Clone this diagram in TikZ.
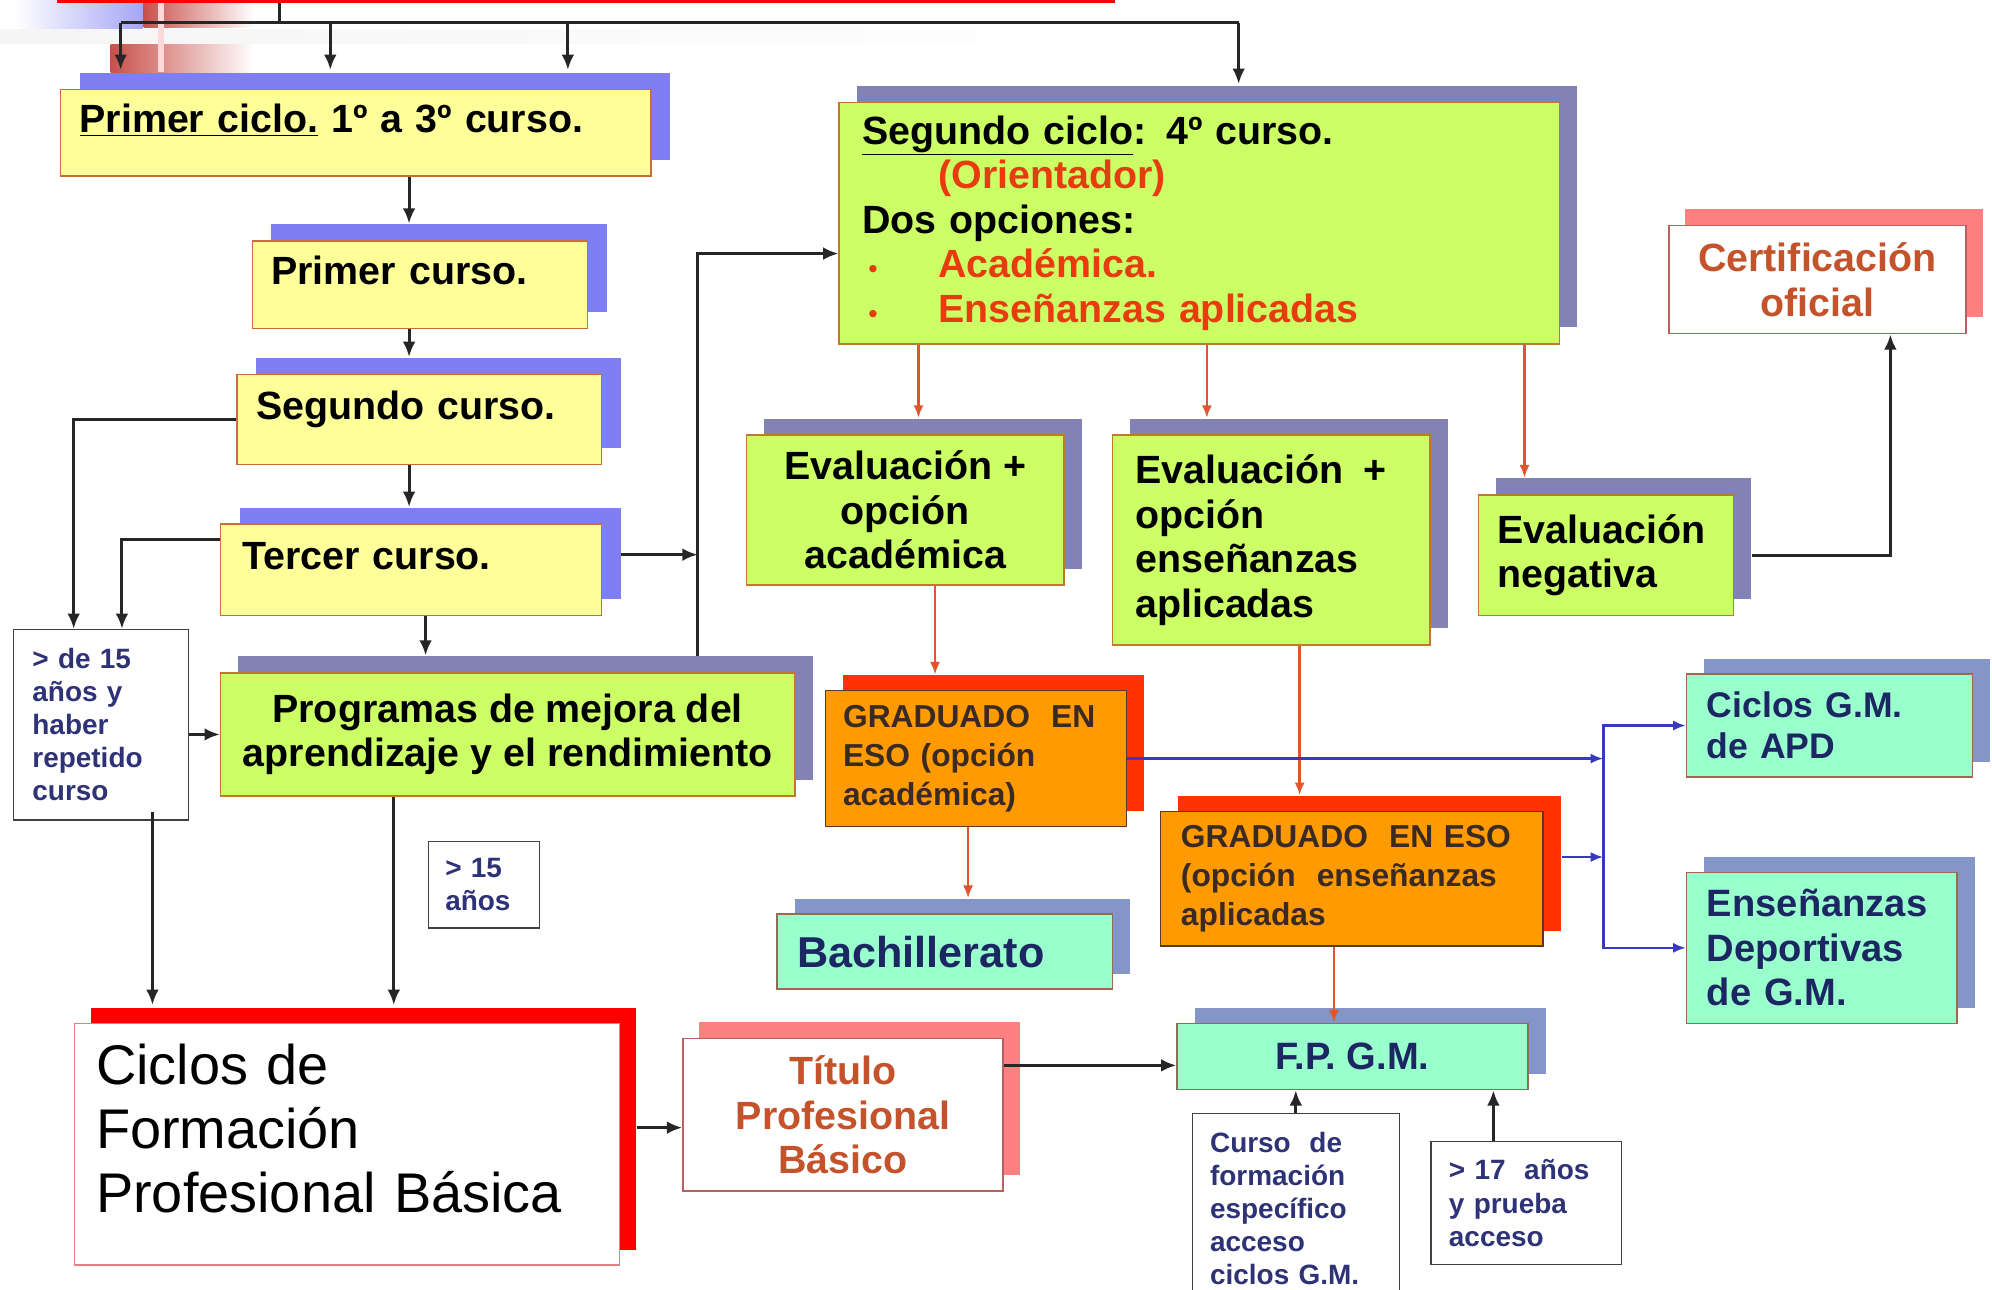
\documentclass[tikz,border=0pt]{standalone}
\usepackage{fontspec}
\setmainfont{Liberation Sans}
\usetikzlibrary{arrows.meta,shadows}

\definecolor{amarillo}{HTML}{FFFF99}
\definecolor{bordeAm}{HTML}{C86E3C}
\definecolor{sombraAz}{HTML}{7F7FF2}
\definecolor{verdeLima}{HTML}{CCFF66}
\definecolor{bordeVe}{HTML}{C0782E}
\definecolor{sombraVe}{HTML}{8282B4}
\definecolor{naranja}{HTML}{FF9A00}
\definecolor{bordeNa}{HTML}{5A3A22}
\definecolor{sombraNa}{HTML}{FF3300}
\definecolor{textoNa}{HTML}{3A2A24}
\definecolor{aguamarina}{HTML}{99FFCC}
\definecolor{bordeAg}{HTML}{9A6A50}
\definecolor{sombraAg}{HTML}{8496C8}
\definecolor{azulMarino}{HTML}{1C2662}
\definecolor{bordeTi}{HTML}{B86060}
\definecolor{sombraRosa}{HTML}{FF8080}
\definecolor{marron}{HTML}{C4522A}
\definecolor{rojoVivo}{HTML}{FF0000}
\definecolor{bordeRojo}{HTML}{E08080}
\definecolor{rojoTexto}{HTML}{E63C0F}
\definecolor{rojoDifuso}{HTML}{C8504A}
\definecolor{textoNota}{HTML}{2E3276}
\definecolor{rojoFlecha}{HTML}{E0552E}
\definecolor{azulFlecha}{HTML}{3838C0}

\tikzset{
  caja/.style={rectangle, anchor=north west, line width=1.2pt, font=\bfseries\fontsize{31}{35}\selectfont},
  curso/.style={caja, fill=amarillo, draw=bordeAm, general shadow={fill=sombraAz, shadow xshift=15pt, shadow yshift=13pt}, align=left, inner xsep=15pt, text height=22pt, text depth=22pt},
  verde/.style={caja, fill=verdeLima, draw=bordeVe, general shadow={fill=sombraVe, shadow xshift=14pt, shadow yshift=13pt}, align=center},
  graduado/.style={caja, fill=naranja, draw=bordeNa, text=textoNa, general shadow={fill=sombraNa, shadow xshift=14pt, shadow yshift=12pt}, align=left, inner xsep=14pt, font=\bfseries\fontsize{25}{30.5}\selectfont},
  agua/.style={caja, fill=aguamarina, draw=bordeAg, text=azulMarino, general shadow={fill=sombraAg, shadow xshift=14pt, shadow yshift=12pt}, align=left, font=\bfseries\fontsize{30}{35}\selectfont},
  titulo/.style={caja, fill=white, draw=bordeTi, text=marron, general shadow={fill=sombraRosa, shadow xshift=13pt, shadow yshift=13pt}, align=center},
  nota/.style={rectangle, anchor=north west, fill=white, draw=black!75, line width=1pt, text=textoNota, align=left, inner xsep=15pt, font=\bfseries\fontsize{22}{26}\selectfont},
  linea/.style={line width=2.3pt, draw=black!85},
  flecha/.style={linea, -{Latex[length=12pt,width=10pt]}},
  flechaR/.style={draw=rojoFlecha, line width=2pt, -{Latex[length=10pt,width=8pt]}},
  flechaA/.style={draw=azulFlecha, line width=2pt, -{Latex[length=10pt,width=8pt]}},
}

\begin{document}
\begin{tikzpicture}[x=1pt, y=-1pt]
  \useasboundingbox (0,0) rectangle (1568,1015);
  % restos de la cabecera
  \shade[left color=white, right color=sombraAz!70] (12,0) rectangle (112,24);
  \shade[left color=black!4, right color=white] (0,23) rectangle (900,34);
  \shade[left color=rojoDifuso, right color=white] (113,0) rectangle (200,22);
  \shade[left color=rojoDifuso, right color=white] (87,35) rectangle (200,57);
  \fill[white!85!red] (124,0) rectangle (129,57);
  \node[draw=rojoVivo, line width=2.5pt, minimum width=830pt, minimum height=60pt, anchor=south west] (eso) at (45,2) {};

  % primer ciclo
  \node[curso, minimum width=465pt, minimum height=68pt, text width=435pt] (ciclo1) at (47,70)
    {\underline{Primer ciclo.} 1º a 3º curso.};
  \node[curso, minimum width=264pt, minimum height=69pt, text width=234pt] (curso1) at (198,189) {Primer curso.};
  \node[curso, minimum width=287pt, minimum height=71pt, text width=257pt] (curso2) at (186,294) {Segundo curso.};
  \node[curso, minimum width=300pt, minimum height=72pt, text width=266pt, inner xsep=17pt] (curso3) at (173,412) {Tercer curso.};
  \node[verde, minimum width=452pt, minimum height=97pt] (pmar) at (173,529)
    {Programas de mejora del\\aprendizaje y el rendimiento};
  \node[nota, minimum width=138pt, minimum height=150pt, text width=108pt] (repetir) at (10,495)
    {> de 15\\años y\\haber\\repetido\\curso};
  \node[nota, minimum width=87pt, minimum height=68pt, text width=61pt, inner xsep=13pt] (mayor15) at (337,662) {> 15\\años};
  \node[rectangle, anchor=north west, fill=white, draw=bordeRojo, line width=1.2pt,
        general shadow={fill=rojoVivo, shadow xshift=13pt, shadow yshift=12pt},
        minimum width=429pt, minimum height=190pt, text width=395pt, inner xsep=17pt, text depth=125pt,
        align=left, font=\fontsize{44}{50}\selectfont] (fpb) at (58,805)
    {Ciclos de\\Formación\\Profesional Básica};
  \node[titulo, minimum width=252pt, minimum height=120pt] (titulo) at (537,817) {Título\\Profesional\\Básico};

  % segundo ciclo
  \node[verde, align=left, minimum width=567pt, minimum height=190pt, text width=531pt, inner xsep=18pt] (ciclo2) at (660,80)
    {\underline{Segundo ciclo}: 4º curso.\\
     \hspace*{60pt}\textcolor{rojoTexto}{(Orientador)}\\
     Dos opciones:\\
     \textcolor{rojoTexto}{\makebox[60pt][l]{\,{\fontsize{20}{20}\selectfont •}}Académica.}\\
     \textcolor{rojoTexto}{\makebox[60pt][l]{\,{\fontsize{20}{20}\selectfont •}}Enseñanzas aplicadas}};
  \node[titulo, minimum width=234pt, minimum height=85pt] (certif) at (1313,177) {Certificación\\oficial};
  \node[verde, minimum width=250pt, minimum height=118pt] (evalac) at (587,342) {Evaluación +\\opción\\académica};
  \node[verde, align=left, minimum width=250pt, minimum height=165pt, text width=214pt, inner xsep=18pt] (evalens) at (875,342)
    {Evaluación\hspace{6pt} +\\opción\\enseñanzas\\aplicadas};
  \node[verde, align=left, minimum width=201pt, minimum height=95pt, text width=171pt, inner xsep=15pt] (evalneg) at (1163,389)
    {Evaluación\\negativa};
  \node[graduado, minimum width=237pt, minimum height=107pt, text width=209pt] (gradac) at (649,543)
    {GRADUADO\ \ EN\\ESO (opción\\académica)};
  \node[graduado, minimum width=301pt, minimum height=106pt, text width=269pt, inner xsep=16pt] (gradens) at (913,638)
    {GRADUADO\ \ EN ESO\\(opción\ \ enseñanzas\\aplicadas};
  \node[agua, minimum width=264pt, minimum height=59pt, text width=232pt, inner xsep=16pt, font=\bfseries\fontsize{34}{38}\selectfont] (bach) at (611,719) {Bachillerato};
  \node[agua, align=center, minimum width=276pt, minimum height=52pt] (fpgm) at (926,805) {F.P. G.M.};
  \node[agua, minimum width=225pt, minimum height=81pt, text width=193pt, inner xsep=16pt, font=\bfseries\fontsize{28}{32}\selectfont] (apd) at (1327,530)
    {Ciclos G.M.\\de APD};
  \node[agua, minimum width=213pt, minimum height=119pt, text width=181pt, inner xsep=16pt] (deport) at (1327,686)
    {Enseñanzas\\Deportivas\\de G.M.};
  \node[nota, minimum width=163pt, minimum height=150pt, text width=135pt, inner xsep=14pt] (cursoesp) at (938,876)
    {Curso\ \ de\\formación\\específico\\acceso\\ciclos G.M.};
  \node[nota, minimum width=150pt, minimum height=97pt, text width=122pt, inner xsep=14pt] (mayor17) at (1126,898)
    {> 17\ \ años\\y prueba\\acceso};

  % reparto superior
  \coordinate (ramal) at (220,18);
  \draw[linea] (eso.south -| ramal) -- (ramal);
  \draw[linea] (ramal -| 95,0) -- (ramal -| 975,0);
  \foreach \x in {95,260,447}
    \draw[flecha] (\x,18) -- ([yshift=15pt]ciclo1.north -| \x,0);
  \draw[flecha] (975,18) -- ([yshift=14pt]ciclo2.north -| 975,0);

  % primer ciclo
  \draw[flecha] (ciclo1.south -| 322,0) -- ([yshift=13pt]curso1.north -| 322,0);
  \draw[flecha] (curso1.south -| 322,0) -- ([yshift=13pt]curso2.north -| 322,0);
  \draw[flecha] (curso2.south -| 322,0) -- ([yshift=13pt]curso3.north -| 322,0);
  \draw[flecha] (curso3.south -| 335,0) -- ([yshift=13pt]pmar.north -| 335,0);
  \draw[flecha] (curso2.west) -| ([xshift=48pt]repetir.north west);
  \draw[flecha] ([yshift=24pt]curso3.west) -| ([xshift=86pt]repetir.north west);
  \draw[flecha] (repetir.east |- pmar.west) -- (pmar.west);
  \coordinate (pie) at ([xshift=-77pt,yshift=13pt]pmar.north east);
  \coordinate (t3) at ([xshift=15pt,yshift=12pt]curso3.east);
  \draw[flecha] (pie) |- ([yshift=-24pt]ciclo2.west);
  \draw[flecha] (t3) -- (t3 -| pie);
  \draw[flecha] ([xshift=110pt,yshift=7pt]repetir.south west) -- ([xshift=62pt,yshift=14pt]fpb.north west);
  \draw[flecha] ([xshift=137pt]pmar.south west) -- ([xshift=252pt,yshift=14pt]fpb.north west);
  \draw[flecha] ([xshift=13pt,yshift=-10pt]titulo.west -| fpb.east) -- ([yshift=-10pt]titulo.west);
  \draw[flecha] ([yshift=-7pt]titulo.east |- fpgm.west) -- ([yshift=-7pt]fpgm.west);

  % segundo ciclo
  \draw[flechaR] (ciclo2.south -| 723,0) -- ([yshift=13pt]evalac.north -| 723,0);
  \draw[flechaR] (ciclo2.south -| 950,0) -- ([yshift=13pt]evalens.north -| 950,0);
  \draw[flechaR] (ciclo2.south -| 1200,0) -- ([yshift=13pt]evalneg.north -| 1200,0);
  \draw[flechaR] (evalac.south -| 736,0) -- ([yshift=12pt]gradac.north -| 736,0);
  \draw[flechaR] (evalens.south -| 1023,0) -- ([yshift=12pt]gradens.north -| 1023,0);
  \draw[flechaR] (gradac.south -| 762,0) -- ([yshift=12pt]bach.north -| 762,0);
  \draw[flechaR] (gradens.south -| 1050,0) -- (fpgm.north -| 1050,0);
  \draw[flecha] ([xshift=14pt]evalneg.east) -| ([xshift=175pt]certif.south west);

  % salidas en azul
  \coordinate (reparto) at (1262,0);
  \draw[flechaA] (gradac.east) -- (gradac.east -| reparto);
  \draw[flechaA] ([xshift=14pt,yshift=17pt]gradens.east) -- ([yshift=17pt]gradens.east -| reparto);
  \draw[flechaA] (deport.west -| reparto) -- (apd.west -| reparto) -- (apd.west);
  \draw[flechaA] (apd.west -| reparto) |- (deport.west);

  % accesos a F.P. G.M.
  \draw[flecha] (cursoesp.north) -- (cursoesp.north |- fpgm.south);
  \coordinate (m17) at ([xshift=-26pt]mayor17.north);
  \draw[flecha] (m17) -- (m17 |- fpgm.south);
\end{tikzpicture}
\end{document}
